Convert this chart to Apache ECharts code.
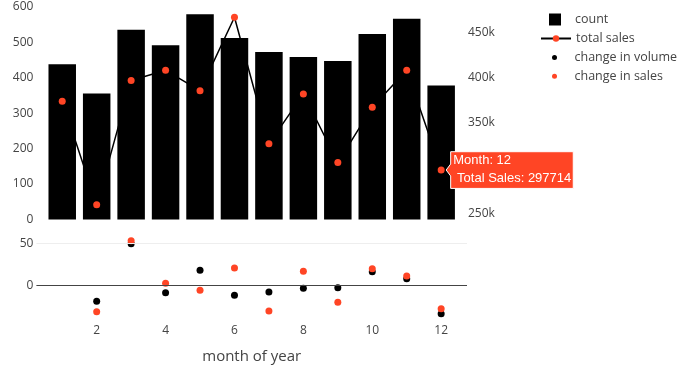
<!DOCTYPE html>
<html><head><meta charset="utf-8">
<script src="https://cdn.jsdelivr.net/npm/echarts@6/dist/echarts.min.js"></script>
<style>html,body{margin:0;padding:0;background:#fff}#c{width:694px;height:376px}</style>
</head><body><div id="c"></div>
<script>
const months = [1, 2, 3, 4, 5, 6, 7, 8, 9, 10, 11, 12];
const countValues = [438, 355, 535, 491, 579, 512, 472, 458, 447, 523, 566, 378];
const totalSales = [373800, 259400, 396600, 408000, 385500, 466600, 326700, 381900, 306000, 367200, 408000, 297714];
const changeMonths = [2, 3, 4, 5, 6, 7, 8, 9, 10, 11, 12];
const changeVolume = [-19.0, 49.5, -8.8, 17.8, -11.9, -8.0, -3.6, -2.8, 16.2, 7.9, -33.8];
const changeSales = [-31.4, 53.1, 2.4, -6.0, 20.6, -30.6, 16.7, -20.2, 19.8, 11.1, -27.8];
const leftTicks = [0, 100, 200, 300, 400, 500, 600];
const rightTicks = [250000, 300000, 350000, 400000, 450000];
const bottomTicks = [0, 50];
const xTicks = [2, 4, 6, 8, 10, 12];
const hoverIndex = 11;

const RED = '#FF4525';
const TXT = '#444';
const FONT = 'Open Sans';

const chart = echarts.init(document.getElementById('c'), null, {renderer: 'canvas'});
const isTick = (v, list) => list.some(t => Math.abs(t - v) < 1e-6);
const legendText = {color: TXT, fontSize: 12.5, fontFamily: FONT};

const option = {
  animation: false,
  grid: [
    {left: 36.4, width: 430.6, top: 6.7, height: 212.8},
    {left: 36.4, width: 430.6, top: 234.9, height: 84}
  ],
  xAxis: [
    {gridIndex: 0, type: 'value', min: 0.25, max: 12.75, interval: 0.25, show: false},
    {gridIndex: 1, type: 'value', min: 0.25, max: 12.75, interval: 0.25,
     axisLine: {show: false}, axisTick: {show: false}, splitLine: {show: false},
     axisLabel: {color: TXT, fontSize: 12, fontFamily: FONT, margin: 6,
       formatter: v => isTick(v, xTicks) ? String(Math.round(v)) : ''},
     name: 'month of year', nameLocation: 'middle', nameGap: 30,
     nameTextStyle: {color: TXT, fontSize: 15, fontFamily: FONT}}
  ],
  yAxis: [
    {gridIndex: 0, type: 'value', min: 0, max: 600, interval: 100,
     axisLine: {show: false}, axisTick: {show: false}, splitLine: {show: false},
     axisLabel: {color: TXT, fontSize: 12, fontFamily: FONT, margin: 3,
       formatter: v => isTick(v, leftTicks) ? String(v) : ''}},
    {gridIndex: 0, type: 'value', position: 'right', min: 243000, max: 478300, interval: 1000,
     axisLine: {show: false}, axisTick: {show: false}, splitLine: {show: false},
     axisLabel: {color: TXT, fontSize: 12, fontFamily: FONT, margin: 1,
       formatter: v => isTick(v, rightTicks) ? (v / 1000) + 'k' : ''}},
    {gridIndex: 1, type: 'value', min: -40, max: 60, interval: 10,
     axisLine: {show: false}, axisTick: {show: false}, splitLine: {show: false},
     axisLabel: {color: TXT, fontSize: 12, fontFamily: FONT, margin: 3,
       formatter: v => isTick(v, bottomTicks) ? String(v) : ''}}
  ],
  legend: [
    {left: 549, top: 13, padding: 0, itemWidth: 30, itemHeight: 12, textStyle: legendText,
     data: [{name: 'count', icon: 'path://M0,0H10V10H0Z'}]},
    {left: 540, top: 32, padding: 0, itemWidth: 30, itemHeight: 8, textStyle: legendText,
     data: ['total sales']},
    {left: 552, top: 51, padding: 0, itemWidth: 30, itemHeight: 5, textStyle: legendText,
     data: [{name: 'change in volume', icon: 'circle'}]},
    {left: 552, top: 69.7, padding: 0, itemWidth: 30, itemHeight: 5, textStyle: legendText,
     data: [{name: 'change in sales', icon: 'circle'}]}
  ],
  series: [
    {name: 'count', type: 'bar', xAxisIndex: 0, yAxisIndex: 0, barWidth: 27.5, z: 1,
     itemStyle: {color: '#000'},
     data: months.map((m, i) => [m, countValues[i]])},
    {name: 'total sales', type: 'line', xAxisIndex: 0, yAxisIndex: 1, z: 3,
     symbol: 'circle', symbolSize: 7, showSymbol: true,
     lineStyle: {color: '#000', width: 1.5}, itemStyle: {color: RED, opacity: 1},
     data: months.map((m, i) => [m, totalSales[i]])},
    {name: 'guides', type: 'scatter', xAxisIndex: 1, yAxisIndex: 2, z: 1, silent: true,
     symbolSize: 0, data: changeMonths.map((m, i) => [m, changeVolume[i]]),
     markLine: {silent: true, symbol: ['none', 'none'], label: {show: false},
       data: [
         {yAxis: 50, lineStyle: {color: '#eeeeee', width: 1, type: 'solid'}},
         {yAxis: 0, lineStyle: {color: '#444', width: 1, type: 'solid'}}
       ]}},
    {name: 'change in volume', type: 'scatter', xAxisIndex: 1, yAxisIndex: 2, z: 3,
     symbolSize: 7, itemStyle: {color: '#000', opacity: 1},
     data: changeMonths.map((m, i) => [m, changeVolume[i]])},
    {name: 'change in sales', type: 'scatter', xAxisIndex: 1, yAxisIndex: 2, z: 4,
     symbolSize: 7, itemStyle: {color: RED, opacity: 1},
     data: changeMonths.map((m, i) => [m, changeSales[i]])}
  ]
};
chart.setOption(option);

// hover label annotation for the last point of "total sales"
const p = chart.convertToPixel({seriesIndex: 1}, [months[hoverIndex], totalSales[hoverIndex]]);
const L = p[0] + 9.5, T = p[1] - 18.3, W = 122.6, H = 36.7;
chart.setOption({
  graphic: [
    {type: 'polygon', z: 100,
     shape: {points: [[p[0] + 5, p[1]], [L, p[1] - 6], [L, T], [L + W, T], [L + W, T + H], [L, T + H], [L, p[1] + 6]]},
     style: {fill: RED, stroke: '#fff', lineWidth: 1}},
    {type: 'text', z: 101, x: L + 2.6, y: p[1] - 9.6,
     style: {text: 'Month: ' + months[hoverIndex], fill: '#fff', font: '13px "Liberation Sans", Arial, sans-serif', verticalAlign: 'middle', align: 'left'}},
    {type: 'text', z: 101, x: L + 6.4, y: p[1] + 8,
     style: {text: 'Total Sales: ' + totalSales[hoverIndex], fill: '#fff', font: '13px "Liberation Sans", Arial, sans-serif', verticalAlign: 'middle', align: 'left'}}
  ]
});
</script>
</body></html>
